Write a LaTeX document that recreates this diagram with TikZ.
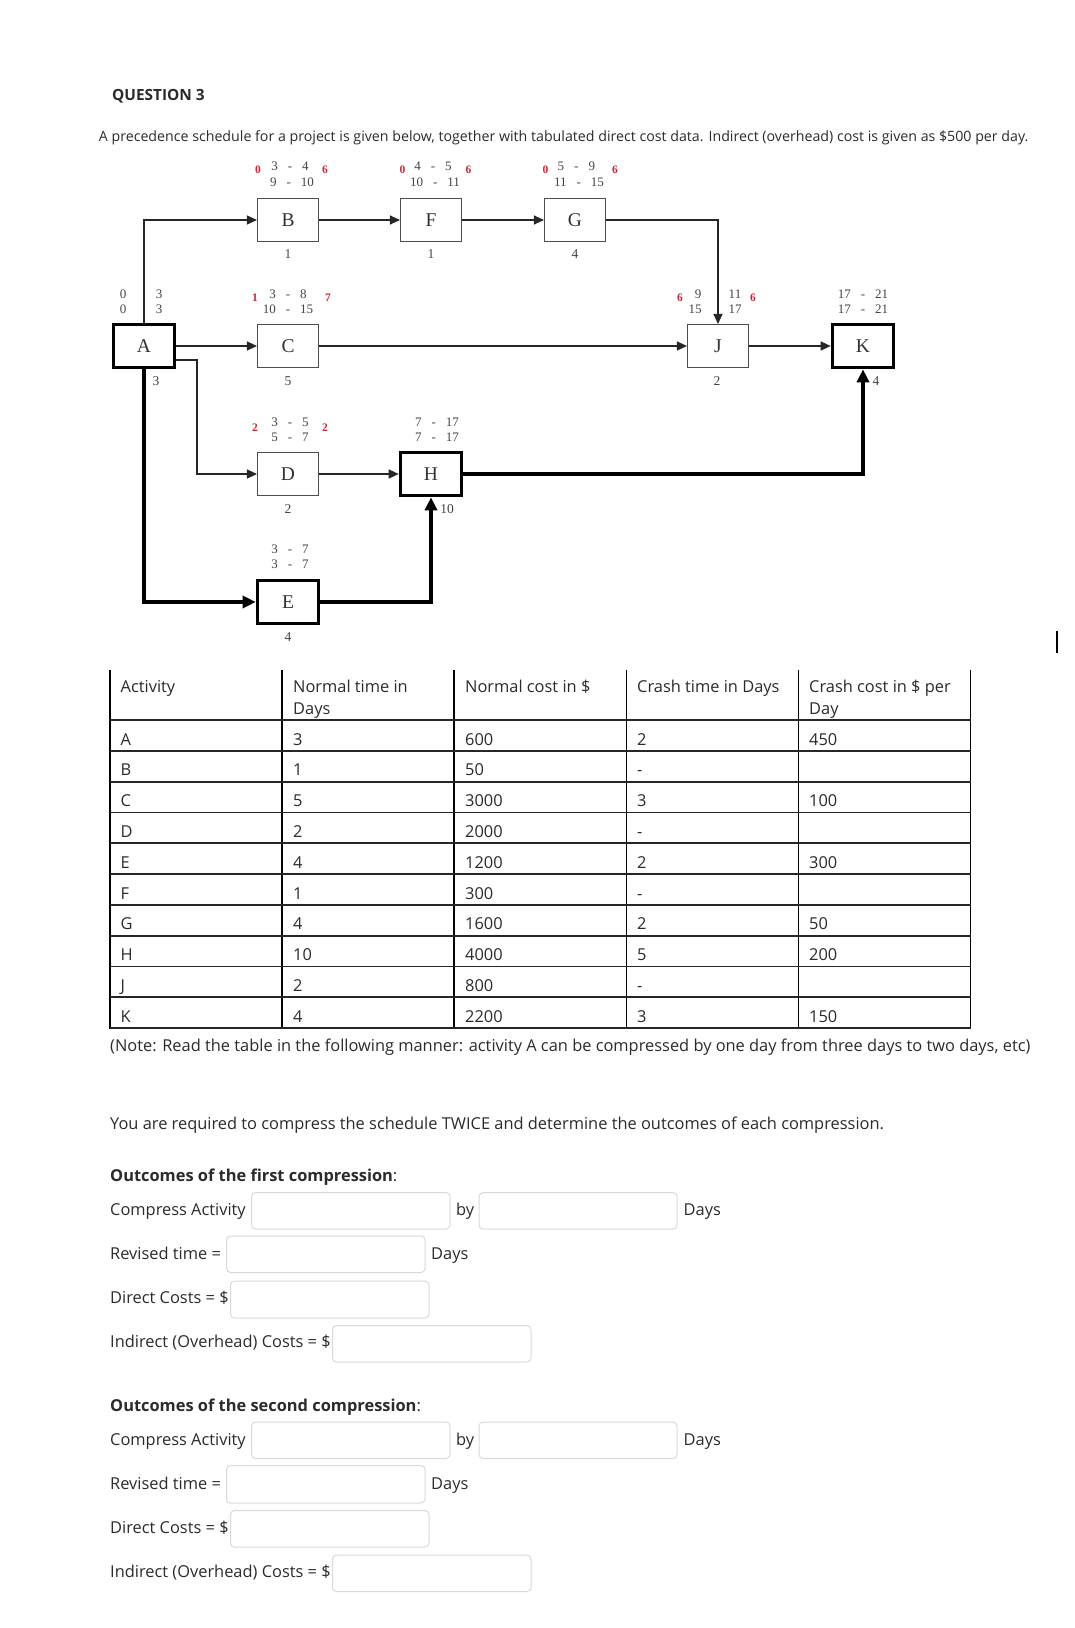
\documentclass[tikz,border=0pt]{standalone}
\usepackage{fontspec}
\setmainfont{Open Sans}
\newfontfamily\tms{Liberation Serif}
\usetikzlibrary{arrows.meta}
\definecolor{txt}{HTML}{2B2B2B}
\definecolor{dgm}{HTML}{444444}
\definecolor{redn}{HTML}{C8283C}
\definecolor{fbox}{HTML}{D9D9D9}
\newcommand{\dd}[2]{#1\hspace{10pt}-\hspace{10pt}#2}
\begin{document}
\begin{tikzpicture}[x=1pt,y=-1pt,
  act/.style={draw=black!70, line width=1.1pt, minimum width=61pt, minimum height=43pt, inner sep=0pt, font=\tms\fontsize{19.5}{19.5}\selectfont, text=black!80},
  crit/.style={act, draw=black, line width=3.6pt},
  thinarr/.style={line width=1.1pt, draw=black!85, -{Triangle[length=10pt,width=9pt]}},
  thickarr/.style={line width=3.4pt, -{Triangle[length=13pt,width=12pt]}},
  hdr/.style={font=\tms\fontsize{13}{13}\selectfont, text=dgm, inner sep=0pt},
  rn/.style={font=\tms\bfseries\fontsize{11.5}{11.5}\selectfont, text=redn, inner sep=0pt},
  dur/.style={font=\tms\fontsize{13.5}{13.5}\selectfont, text=dgm, inner sep=0pt},
  body/.style={font=\fontsize{16.4}{16.4}\selectfont, text=txt, anchor=base west, inner sep=0pt},
  cell/.style={font=\fontsize{16.4}{16.4}\selectfont, text=txt, anchor=base west, inner sep=0pt},
  fld/.style={draw=fbox, line width=1pt, rounded corners=4pt}
]
\useasboundingbox (0,0) rectangle (1074,1628);
\fill[white] (0,0) rectangle (1074,1628);

% title and intro
\node[body, font=\bfseries\fontsize{15.4}{15.4}\selectfont] (title) at (112,100.8) {QUESTION 3};
\node[body, font=\fontsize{14.2}{14.2}\selectfont] (intro) at (98.7,141.2) {A precedence schedule for a project is given below, together with tabulated direct cost data. Indirect (overhead) cost is given as \$500 per day.};

% activity nodes
\node[crit] (A) at (144,346) {A};
\node[act]  (B) at (288,220) {B};
\node[act]  (C) at (288,346) {C};
\node[act]  (D) at (288,474) {D};
\node[crit] (E) at (288,602) {E};
\node[act]  (F) at (431,220) {F};
\node[crit] (H) at (431,474) {H};
\node[act]  (G) at (575,220) {G};
\node[act]  (J) at (718,346) {J};
\node[crit] (K) at (863,346) {K};

\coordinate (ad) at (197,360);

% connectors
\draw[thinarr] (A.north) |- (B.west);
\draw[thinarr] (B.east) -- (F.west);
\draw[thinarr] (F.east) -- (G.west);
\draw[thinarr] (G.east) -| (J.north);
\draw[thinarr] (A.east) -- (C.west);
\draw[thinarr] (C.east) -- (J.west);
\draw[thinarr] (J.east) -- (K.west);
\draw[thinarr] (A.east |- ad) -- (ad) |- (D.west);
\draw[thinarr] (D.east) -- (H.west);
\draw[thickarr] (A.south) |- (E.west);
\draw[thickarr] (E.east) -| (H.south);
\draw[thickarr] (H.east) -| (K.south);

% durations
\node[dur] (dB) at (288,254.5) {1};
\node[dur] (dF) at (431,254.5) {1};
\node[dur] (dG) at (575,254.5) {4};
\node[dur] (dA) at (156,381) {3};
\node[dur] (dC) at (288,381) {5};
\node[dur] (dJ) at (717,381) {2};
\node[dur] (dK) at (876,381) {4};
\node[dur] (dD) at (288,509) {2};
\node[dur] (dH) at (447,509) {10};
\node[dur] (dE) at (288,637) {4};

% headers
\node[hdr] (hA1) at (123,294) {0};
\node[hdr] (hA2) at (123,309.5) {0};
\node[hdr] (hA3) at (159,294) {3};
\node[hdr] (hA4) at (159,309.5) {3};

\node[rn] (rB1) at (258,170) {0};
\node[hdr] (hB1) at (290,166) {\dd{3}{4}};
\node[hdr] (hB2) at (292,182) {\dd{9}{10}};
\node[rn] (rB2) at (325,170) {6};

\node[rn] (rF1) at (402.5,170) {0};
\node[hdr] (hF1) at (433,166) {\dd{4}{5}};
\node[hdr] (hF2) at (435,182) {\dd{10}{11}};
\node[rn] (rF2) at (468.6,170) {6};

\node[rn] (rG1) at (545.4,170) {0};
\node[hdr] (hG1) at (576.4,166) {\dd{5}{9}};
\node[hdr] (hG2) at (579,182) {\dd{11}{15}};
\node[rn] (rG2) at (615,170) {6};

\node[rn] (rC1) at (255,298) {1};
\node[hdr] (hC1) at (288,294) {\dd{3}{8}};
\node[hdr] (hC2) at (288,309.5) {\dd{10}{15}};
\node[rn] (rC2) at (328,298) {7};

\node[rn] (rJ1) at (680,298) {6};
\node[hdr] (hJ1) at (698,294) {9};
\node[hdr] (hJ2) at (695,309.5) {15};
\node[hdr] (hJ3) at (735,294) {11};
\node[hdr] (hJ4) at (735,309.5) {17};
\node[rn] (rJ2) at (753,298) {6};

\node[hdr] (hK1) at (863,294) {\dd{17}{21}};
\node[hdr] (hK2) at (863,309.5) {\dd{17}{21}};

\node[rn] (rD1) at (255,428) {2};
\node[hdr] (hD1) at (290,422) {\dd{3}{5}};
\node[hdr] (hD2) at (290,437.5) {\dd{5}{7}};
\node[rn] (rD2) at (325,428) {2};

\node[hdr] (hH1) at (437,422) {\dd{7}{17}};
\node[hdr] (hH2) at (437,437.5) {\dd{7}{17}};

\node[hdr] (hE1) at (290,549) {\dd{3}{7}};
\node[hdr] (hE2) at (290,564.5) {\dd{3}{7}};

% cursor
\draw[line width=2pt] (1056.5,631) -- (1056.5,653);

% table
\foreach \x in {110,282,454,626.5,798.5,970.5} \draw[line width=1.4pt] (\x,670) -- (\x,1028.5);
\foreach \k in {0,...,10} \draw[line width=1.8pt, draw=black!85] (110,720+30.8*\k) -- (970.5,720+30.8*\k);

\node[cell] (th1) at (120.5,692) {Activity};
\node[cell] (th2) at (293,692) {Normal time in};
\node[cell] (th2b) at (293,714) {Days};
\node[cell] (th3) at (465,692) {Normal cost in \$};
\node[cell] (th4) at (637,692) {Crash time in Days};
\node[cell] (th5) at (809,692) {Crash cost in \$ per};
\node[cell] (th5b) at (809,714) {Day};

\foreach \a/\b/\c/\d/\e [count=\i from 0] in {A/3/600/2/450, B/1/50/-/, C/5/3000/3/100, D/2/2000/-/, E/4/1200/2/300, F/1/300/-/, G/4/1600/2/50, H/10/4000/5/200, J/2/800/-/, K/4/2200/3/150}{
  \node[cell] (r\i a) at (120.5,720+30.8*\i+25) {\a};
  \node[cell] (r\i b) at (293,720+30.8*\i+25) {\b};
  \node[cell] (r\i c) at (465,720+30.8*\i+25) {\c};
  \node[cell] (r\i d) at (637,720+30.8*\i+25) {\d};
  \node[cell] (r\i e) at (809,720+30.8*\i+25) {\e};
}

\node[body] (note) at (110,1051.5) {(Note: Read the table in the following manner: activity A can be compressed by one day from three days to two days, etc)};
\node[body] (req) at (110,1129.5) {You are required to compress the schedule TWICE and determine the outcomes of each compression.};

% first compression
\node[body] (o1) at (110,1181.5) {\textbf{Outcomes of the first compression}:};
\node[body] (c1) at (110,1215.5) {Compress Activity};
\draw[fld] (251.5,1192.5) rectangle (450,1229) node[coordinate] (f1a) {};
\node[body] (by1) at (456,1215.5) {by};
\draw[fld] (479,1192.5) rectangle (677,1229) node[coordinate] (f1b) {};
\node[body] (dy1) at (683.5,1215.5) {Days};
\node[body] (rt1) at (110,1259.5) {Revised time =};
\draw[fld] (226.5,1236) rectangle (425,1272.5) node[coordinate] (f1c) {};
\node[body] (dy1b) at (431,1259.5) {Days};
\node[body] (dc1) at (110,1303.5) {Direct Costs = \$};
\draw[fld] (230.5,1281) rectangle (429,1318) node[coordinate] (f1d) {};
\node[body] (ic1) at (110,1347.5) {Indirect (Overhead) Costs = \$};
\draw[fld] (332.5,1325.5) rectangle (531,1362) node[coordinate] (f1e) {};

% second compression
\node[body] (o2) at (110,1411) {\textbf{Outcomes of the second compression}:};
\node[body] (c2) at (110,1445) {Compress Activity};
\draw[fld] (251.5,1422) rectangle (450,1458.5) node[coordinate] (f2a) {};
\node[body] (by2) at (456,1445) {by};
\draw[fld] (479,1422) rectangle (677,1458.5) node[coordinate] (f2b) {};
\node[body] (dy2) at (683.5,1445) {Days};
\node[body] (rt2) at (110,1489) {Revised time =};
\draw[fld] (226.5,1465.5) rectangle (425,1503) node[coordinate] (f2c) {};
\node[body] (dy2b) at (431,1489) {Days};
\node[body] (dc2) at (110,1533.5) {Direct Costs = \$};
\draw[fld] (230.5,1510.5) rectangle (429,1547) node[coordinate] (f2d) {};
\node[body] (ic2) at (110,1577) {Indirect (Overhead) Costs = \$};
\draw[fld] (332.5,1555) rectangle (531,1591.5) node[coordinate] (f2e) {};
\end{tikzpicture}
\end{document}
